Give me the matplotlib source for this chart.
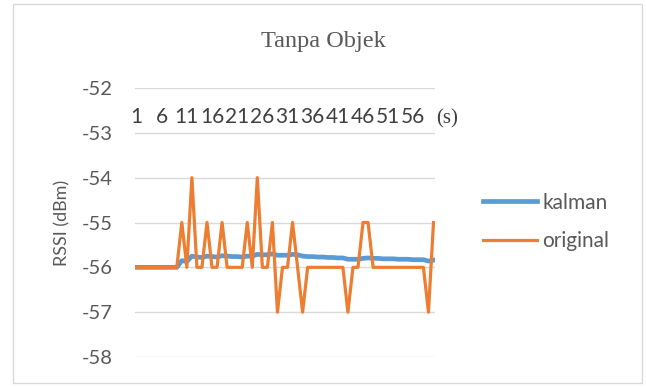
import matplotlib.pyplot as plt
from matplotlib.patches import Rectangle

# data (one point per second)
original = [-56, -56, -56, -56, -56, -56, -56, -56, -56, -55,
            -56, -54, -56, -56, -55, -56, -56, -55, -56, -56,
            -56, -56, -55, -56, -54, -56, -56, -55, -57, -56,
            -56, -55, -56, -57, -56, -56, -56, -56, -56, -56,
            -56, -56, -57, -56, -56, -55, -55, -56, -56, -56,
            -56, -56, -56, -56, -56, -56, -56, -56, -57, -55]
kalman = [-56.0, -56.0, -56.0, -56.0, -56.0, -56.0, -56.0, -56.0, -56.0, -55.85,
          -55.87, -55.75, -55.77, -55.78, -55.75, -55.76, -55.77, -55.74, -55.75, -55.76,
          -55.76, -55.77, -55.75, -55.75, -55.71, -55.72, -55.72, -55.70, -55.73, -55.73,
          -55.73, -55.71, -55.72, -55.75, -55.76, -55.76, -55.77, -55.77, -55.78, -55.78,
          -55.79, -55.79, -55.82, -55.82, -55.82, -55.80, -55.79, -55.80, -55.80, -55.81,
          -55.81, -55.81, -55.82, -55.82, -55.82, -55.83, -55.83, -55.83, -55.86, -55.84]
seconds = list(range(1, len(original) + 1))
tick_labels = [str(s) for s in seconds[::5]]
y_ticks = [-58, -57, -56, -55, -54, -53, -52]

text_col = '#595959'
tick_font = 'Lato'

fig = plt.figure(figsize=(6.46, 3.87), dpi=100)
fig.patches.append(Rectangle((13 / 646, 4 / 387), 629 / 646, 379 / 387,
                             transform=fig.transFigure, fill=False,
                             edgecolor='#d9d9d9', linewidth=1))

ax = fig.add_axes([135 / 646, 1 - 357 / 387, 300 / 646, 269 / 387])

x = list(range(len(original)))
ax.plot(x, kalman, color='#5B9BD5', linewidth=3.4, label='kalman',
        solid_joinstyle='round')
ax.plot(x, original, color='#ED7D31', linewidth=2.3, label='original',
        solid_joinstyle='round')

ax.set_xlim(-0.3, len(original) - 0.7)
ax.set_ylim(-58, -52)
ax.set_yticks(y_ticks)
ax.set_yticklabels([str(v) for v in y_ticks])
ax.grid(axis='y', color='#d9d9d9', linewidth=1)
ax.set_axisbelow(True)
for s in ax.spines.values():
    s.set_visible(False)

ax.set_xticks(x[::5])
ax.set_xticklabels(tick_labels)
ax.xaxis.set_ticks_position('top')
ax.tick_params(axis='x', length=0, pad=-28, labeltop=True, labelbottom=False,
               labelsize=15, labelcolor='#404040')
ax.tick_params(axis='y', length=0, pad=16, labelsize=14.5, labelcolor=text_col)
for lab in ax.get_xticklabels() + ax.get_yticklabels():
    lab.set_fontfamily(tick_font)

ax.text(1.005, 0.885, '(s)', transform=ax.transAxes, ha='left', va='center',
        fontsize=15, family='Liberation Serif', color='#404040')

ax.set_ylabel('RSSI (dBm)', fontsize=13, family=tick_font, color=text_col,
              labelpad=8)

fig.text(0.5, 1 - 42 / 387, 'Tanpa Objek', ha='center', va='center',
         fontsize=17.5, family='Liberation Serif', color=text_col)

leg = fig.legend(loc='center left', bbox_to_anchor=(483 / 646, 1 - 222 / 387),
                 frameon=False, prop={'family': tick_font, 'size': 15},
                 handlelength=2.6, handletextpad=0.25, labelspacing=0.9,
                 borderpad=0, borderaxespad=0)
for t in leg.get_texts():
    t.set_color(text_col)

fig.savefig('out.png', dpi=100)
